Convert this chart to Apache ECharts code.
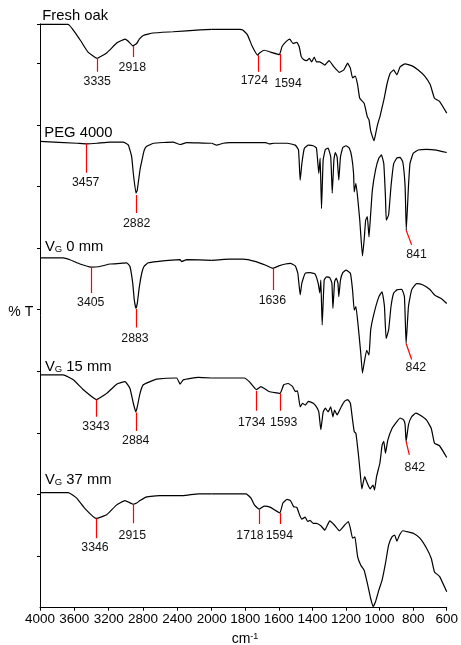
<!DOCTYPE html>
<html>
<head>
<meta charset="utf-8">
<script src="https://cdn.jsdelivr.net/npm/echarts@6/dist/echarts.min.js"></script>
<style>
html,body{margin:0;padding:0;background:#fff;}
#chart{width:461px;height:645px;}
</style>
</head>
<body>
<div id="chart"></div>
<script>
// ---- DATA: [wavenumber (cm-1), %T (offset, arbitrary units)] ----
const freshOak = [[4000,86.3],[3674,86.3],[3534,83.8],[3441,81.8],[3335,80.8],[3220,81.7],[3103,83.3],[3010,83.9],[2975,83.6],[2918,82.8],[2874,83.2],[2843,83.9],[2797,84.5],[2684,84.9],[2451,85.1],[2136,85.4],[2000,85.5],[1893,85.5],[1834,85.5],[1815,85.4],[1787,84.6],[1758,82.7],[1726,81.3],[1717,81.6],[1688,82.1],[1649,81.8],[1597,81.4],[1581,82.7],[1557,83.5],[1535,83.9],[1516,83.2],[1493,83.4],[1479,82.7],[1467,81.1],[1453,80.6],[1434,80.4],[1418,80.8],[1405,80.2],[1389,81.0],[1376,80.2],[1356,80.2],[1326,79.7],[1301,80.4],[1272,79.4],[1239,78.5],[1213,78.9],[1190,80.0],[1174,79.2],[1161,77.6],[1145,77.9],[1131,76.5],[1118,74.3],[1092,73.5],[1073,71.3],[1063,70.8],[1053,69.0],[1033,67.4],[1024,68.5],[1014,69.8],[1004,70.8],[998,71.3],[975,74.0],[955,76.7],[936,78.4],[916,78.9],[897,78.1],[878,79.4],[848,79.9],[809,79.6],[770,78.9],[731,77.9],[698,76.5],[673,74.3],[643,73.8],[600,71.9]];

const peg4000 = [[4000,67.3],[3569,67.0],[3456,66.9],[3336,67.0],[3185,67.2],[3033,67.2],[2971,66.7],[2932,64.8],[2913,62.1],[2882,58.9],[2867,59.4],[2835,62.7],[2804,64.8],[2785,65.9],[2757,66.5],[2680,67.0],[2451,67.2],[2369,66.8],[2291,67.1],[2020,67.0],[2000,67.0],[1971,66.7],[1932,67.0],[1893,67.1],[1678,67.1],[1658,66.9],[1629,67.0],[1551,67.0],[1502,66.7],[1483,65.9],[1473,61.0],[1463,63.7],[1448,66.2],[1424,66.7],[1395,66.6],[1376,66.2],[1362,62.1],[1354,64.6],[1346,56.4],[1336,64.3],[1323,66.0],[1307,66.2],[1291,64.8],[1282,58.9],[1272,64.3],[1264,65.5],[1253,64.8],[1243,61.0],[1233,64.8],[1219,66.3],[1200,66.6],[1180,66.2],[1166,64.8],[1155,62.1],[1151,59.1],[1141,60.5],[1131,58.3],[1118,54.5],[1102,48.7],[1092,51.3],[1083,54.5],[1073,55.1],[1063,51.8],[1053,55.6],[1043,59.4],[1024,62.7],[1004,64.6],[989,65.1],[975,63.7],[965,58.3],[960,54.5],[946,55.4],[932,60.0],[916,63.7],[897,64.6],[878,64.7],[862,64.0],[848,60.0],[841,52.9],[828,60.0],[819,63.7],[799,65.4],[770,65.9],[721,66.0],[663,65.9],[600,65.5]];

const vg0 = [[4000,48.4],[3732,48.4],[3651,48.1],[3534,47.4],[3405,46.9],[3301,47.0],[3185,47.4],[3068,47.5],[2990,47.6],[2952,47.0],[2920,44.3],[2902,41.6],[2883,40.2],[2867,41.0],[2843,43.7],[2815,45.9],[2789,47.0],[2739,47.6],[2641,47.8],[2369,48.1],[2350,47.8],[2291,48.1],[2000,48.0],[1893,48.2],[1815,48.2],[1736,47.8],[1678,47.2],[1636,46.7],[1600,47.1],[1561,47.4],[1531,47.5],[1502,47.1],[1487,45.9],[1473,42.4],[1463,44.3],[1443,45.9],[1414,46.0],[1385,45.8],[1366,44.3],[1356,42.7],[1350,44.8],[1342,37.5],[1330,44.8],[1317,45.3],[1297,45.2],[1284,44.3],[1278,40.2],[1268,44.5],[1258,45.1],[1248,44.3],[1243,42.1],[1233,44.8],[1219,46.0],[1200,46.4],[1174,45.9],[1161,43.2],[1151,39.9],[1141,40.5],[1127,37.2],[1112,32.9],[1102,29.7],[1092,31.3],[1077,33.4],[1063,32.6],[1053,36.7],[1033,39.4],[1004,42.1],[985,42.9],[971,40.5],[961,35.3],[946,36.7],[932,40.5],[916,42.7],[897,43.2],[868,43.3],[852,42.1],[842,34.5],[828,40.5],[809,43.2],[780,44.2],[741,44.0],[702,43.3],[673,42.4],[663,42.2],[633,41.8],[600,41.0]];

const vg15 = [[4000,29.4],[3729,29.4],[3612,28.6],[3496,27.0],[3343,25.4],[3223,26.4],[3107,27.9],[3010,28.3],[2952,27.2],[2913,24.8],[2884,23.4],[2867,24.2],[2835,26.4],[2797,27.8],[2719,28.3],[2641,28.7],[2408,28.9],[2369,27.9],[2331,28.6],[2156,29.0],[2000,28.9],[1893,28.9],[1805,28.9],[1776,28.3],[1734,27.0],[1707,27.5],[1658,26.7],[1593,26.4],[1571,27.8],[1545,28.0],[1518,27.5],[1502,26.7],[1489,26.8],[1473,24.2],[1459,24.8],[1443,24.5],[1424,25.1],[1395,24.8],[1376,24.2],[1362,23.4],[1350,20.5],[1336,23.4],[1323,24.0],[1307,23.4],[1291,24.2],[1278,22.6],[1268,23.7],[1253,22.9],[1229,24.2],[1209,25.1],[1190,25.4],[1174,24.8],[1161,22.1],[1151,20.2],[1141,19.9],[1127,16.7],[1115,13.4],[1106,10.9],[1089,12.9],[1073,11.8],[1057,10.9],[1039,11.5],[1030,10.7],[1018,12.9],[998,15.1],[985,18.0],[975,18.6],[965,16.7],[951,18.8],[926,20.7],[897,21.8],[878,22.4],[857,22.1],[848,21.3],[842,18.6],[828,21.3],[809,22.6],[784,23.2],[760,22.9],[721,22.1],[692,20.7],[673,18.3],[643,17.9],[600,16.0]];

const vg37 = [[4000,10.3],[3670,10.3],[3573,9.4],[3476,7.7],[3346,6.1],[3223,6.7],[3107,8.3],[3010,9.0],[2960,8.7],[2915,8.4],[2874,8.6],[2835,9.0],[2757,9.6],[2602,9.8],[2331,9.8],[2156,10.1],[2000,10.1],[1893,10.1],[1795,10.1],[1766,9.4],[1746,8.3],[1718,7.6],[1688,8.1],[1649,7.9],[1594,7.0],[1576,8.6],[1551,9.2],[1531,9.0],[1512,8.0],[1493,7.9],[1477,6.7],[1463,6.0],[1443,6.3],[1428,5.6],[1414,5.8],[1395,5.3],[1376,5.3],[1350,4.9],[1326,4.2],[1297,5.7],[1268,5.0],[1239,4.1],[1209,5.0],[1186,5.6],[1174,4.5],[1161,2.9],[1147,3.1],[1131,-0.1],[1112,-1.5],[1092,-2.3],[1073,-4.4],[1053,-6.9],[1038,-8.2],[1024,-7.4],[1004,-5.5],[985,-3.9],[965,-1.2],[946,1.8],[926,3.1],[910,3.4],[897,2.4],[881,3.4],[862,4.1],[828,3.9],[799,3.7],[760,2.9],[721,1.3],[692,-0.4],[673,-2.6],[643,-3.3],[600,-5.8]];

const traceNames = ['Fresh oak', 'PEG 4000', 'V{g|G} 0 mm', 'V{g|G} 15 mm', 'V{g|G} 37 mm'];

// peak annotations: label text, marker start [wn, %T], marker end [wn, %T], label position [wn, %T]
const peakText  = ['3335','2918','1724','1594','3457','2882','841','3405','2883','1636','842','3343','2884','1734','1593','842','3346','2915','1718','1594'];
const peakWn    = [3335,2918,1724,1594,3457,2882,842,3405,2883,1636,842,3343,2884,1734,1593,842,3346,2915,1718,1594];
const peakTop   = [80.8,82.8,81.3,81.5,67.0,58.6,52.9,46.9,40.1,46.7,34.5,25.4,23.3,26.8,26.4,18.6,6.1,8.4,7.6,7.0];
const peakEndWn = [3335,2918,1724,1594,3457,2882,809,3405,2883,1636,809,3343,2884,1734,1593,823,3346,2915,1718,1594];
const peakEndT  = [78.6,81.0,78.6,78.6,62.2,55.7,50.5,42.7,37.1,43.2,31.9,22.6,20.3,23.6,23.6,16.4,2.9,5.3,5.2,5.2];
const labelWn   = [3333,2925,1746,1545,3468,2874,780,3409,2893,1639,784,3348,2885,1762,1571,790,3359,2925,1772,1597];
const labelT    = [77.0,79.2,77.1,76.7,60.6,53.9,48.9,41.2,35.3,41.4,30.5,21.0,18.7,21.7,21.7,14.4,1.3,3.3,3.3,3.3];

const yTicks = [0,10,20,30,40,50,60,70,80,86.36];

// ---- CHART ----
const FONT = 'Liberation Sans, Arial, sans-serif';
const chart = echarts.init(document.getElementById('chart'), null, {renderer:'canvas'});
const traces = [freshOak, peg4000, vg0, vg15, vg37];
const series = [];
traces.forEach(d => {
  const base = {type:'line', showSymbol:false, symbol:'none', smooth:0.12, silent:true,
    lineStyle:{color:'#000', width:1.2}, clip:false, animation:false};
  series.push(Object.assign({}, base, {xAxisIndex:0, yAxisIndex:0, data:d.filter(p => p[0] >= 2000)}));
  series.push(Object.assign({}, base, {xAxisIndex:1, yAxisIndex:1, data:d.filter(p => p[0] <= 2000)}));
});
const lines = [[],[]], labs = [[],[]];
peakText.forEach((t,i) => {
  const g = peakWn[i] > 2000 ? 0 : 1;
  lines[g].push({coords:[[peakWn[i], peakTop[i]], [peakEndWn[i], peakEndT[i]]]});
  labs[g].push([labelWn[i], labelT[i], t]);
});
[0,1].forEach(g => {
  series.push({type:'lines', coordinateSystem:'cartesian2d', xAxisIndex:g, yAxisIndex:g, polyline:false,
    data:lines[g], silent:true, animation:false, z:5,
    lineStyle:{color:'#ff0000', width:1.2, opacity:1, curveness:0}});
  series.push({type:'scatter', xAxisIndex:g, yAxisIndex:g, data:labs[g], symbol:'circle', symbolSize:0.1, silent:true, animation:false,
    itemStyle:{color:'#000', opacity:1}, clip:false, z:6,
    label:{show:true, position:'top', distance:0, align:'center', verticalAlign:'middle',
      formatter:p => p.value[2], color:'#111', fontSize:12.3, fontFamily:FONT, textBorderWidth:0}});
});

const xCommon = {type:'value', inverse:true,
  axisLine:{show:true, onZero:false, lineStyle:{color:'#000', width:1}},
  axisTick:{show:true, inside:false, length:3, lineStyle:{color:'#000'}},
  axisLabel:{color:'#000', fontSize:13.5, fontFamily:FONT, margin:5, formatter:v => String(v)},
  splitLine:{show:false}};

const graphic = [];
const nameY = [17.8, 134.2, 248.6, 368, 481.5];
const nameX = [42.3, 44.3, 45, 45, 45];
traceNames.forEach((n,i) => graphic.push({type:'text', left:nameX[i], top:nameY[i]-9, silent:true,
  style:{text:n, fill:'#000', font:'14.8px ' + FONT,
    rich:{g:{fontSize:9.5, fontFamily:FONT, fill:'#000', verticalAlign:'bottom', padding:[5,0,0,0]}}}}));
graphic.push({type:'text', left:8.3, top:305, silent:true, style:{text:'% T', fill:'#000', font:'14px ' + FONT}});
graphic.push({type:'text', left:231.7, top:632, silent:true,
  style:{text:'cm{s|-1}', fill:'#000', font:'14px ' + FONT,
    rich:{s:{fontSize:9, fontFamily:FONT, fill:'#000', verticalAlign:'top'}}}});

chart.setOption({
  animation:false,
  backgroundColor:'#fff',
  grid:[
    {left:40, top:24, width:171.7, bottom:37.3},
    {left:211.7, top:24, width:239, bottom:37.3}
  ],
  xAxis:[
    Object.assign({}, xCommon, {gridIndex:0, min:2000, max:4000, interval:400}),
    Object.assign({}, xCommon, {gridIndex:1, min:600, max:2000, interval:200,
      axisLabel:Object.assign({}, xCommon.axisLabel, {showMaxLabel:false})})
  ],
  yAxis:[
    {type:'value', gridIndex:0, min:-8.39, max:86.36,
      axisLine:{show:true, onZero:false, lineStyle:{color:'#000', width:1}},
      axisTick:{show:true, length:3, customValues:yTicks, lineStyle:{color:'#000'}},
      axisLabel:{show:false}, splitLine:{show:false}},
    {type:'value', gridIndex:1, min:-8.39, max:86.36, show:false, splitLine:{show:false}}
  ],
  graphic: graphic,
  series: series
});
</script>
</body>
</html>
